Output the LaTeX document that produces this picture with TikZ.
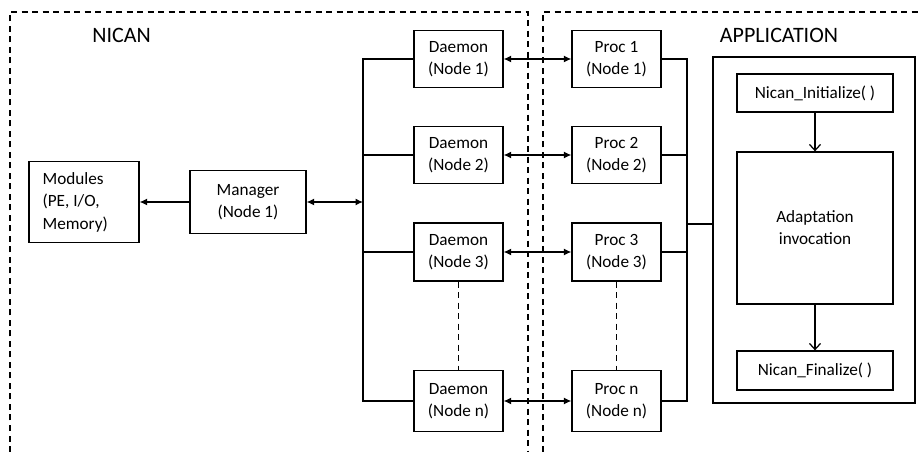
\documentclass[tikz,border=0pt]{standalone}
\usepackage{fontspec}
\setmainfont{Carlito}
\usetikzlibrary{arrows.meta}
\begin{document}
\begin{tikzpicture}[x=1bp,y=-1bp,
  line width=1.25bp,
  box/.style={draw, line width=1.25bp, align=center, inner sep=0pt, font=\fontsize{17.2bp}{22bp}\selectfont},
  lbl/.style={font=\fontsize{22bp}{24bp}\selectfont, inner sep=0pt},
  dbl/.style={arrows={Latex[length=7.5bp,width=7bp]-Latex[length=7.5bp,width=7bp]}},
  one/.style={arrows={-Latex[length=7.5bp,width=7bp]}},
  barb/.style={arrows={-Straight Barb[length=6bp,width=11bp,line width=1.25bp]}},
  region/.style={dash pattern=on 6bp off 4.5bp, line width=1.1bp},
  dots/.style={dash pattern=on 6bp off 4.5bp, line width=1.1bp}]
\useasboundingbox (0,0) rectangle (922,452);

% dashed regions
\draw[region] (10,452) -- (10,12) -- (528,12) -- (528,452);
\draw[region] (543,452) -- (543,12) -- (922,12);
\node[lbl] (nican) at (121.5,35) {NICAN};
\node[lbl] (appl) at (779,35) {APPLICATION};

% NICAN side
\node[box, minimum width=110bp, minimum height=81bp] (mod) at (84,202) {};
\node[anchor=west, align=left, inner sep=0pt, font=\fontsize{17.2bp}{22.5bp}\selectfont] (modt) at (42,202) {Modules\\(PE, I/O,\\Memory)};
\node[box, minimum width=116bp, minimum height=63bp] (mgr) at (248,202) {Manager\\(Node 1)};

\node[box, minimum width=89bp, minimum height=57bp] (d1) at (458.5,59) {Daemon\\(Node 1)};
\node[box, minimum width=89bp, minimum height=57bp] (d2) at (458.5,155) {Daemon\\(Node 2)};
\node[box, minimum width=89bp, minimum height=58bp] (d3) at (458.5,252) {Daemon\\(Node 3)};
\node[box, minimum width=89bp, minimum height=61bp] (dn) at (458.5,401) {Daemon\\(Node n)};

\coordinate (lb) at (363,59);
\draw (d1.west) -- (d1.west -| lb) -- (dn.west -| lb) -- (dn.west);
\draw (d2.west) -- (d2.west -| lb);
\draw (d3.west) -- (d3.west -| lb);
\draw[dbl] (mgr.east) -- (mgr.east -| lb);
\draw[one] (mgr.west) -- (mod.east |- mgr.west);
\draw[dots] (d3.south) -- (dn.north);

% APPLICATION side
\node[box, minimum width=89bp, minimum height=57bp] (p1) at (616.5,59) {Proc 1\\(Node 1)};
\node[box, minimum width=89bp, minimum height=57bp] (p2) at (616.5,155) {Proc 2\\(Node 2)};
\node[box, minimum width=89bp, minimum height=58bp] (p3) at (616.5,252) {Proc 3\\(Node 3)};
\node[box, minimum width=89bp, minimum height=61bp] (pn) at (616.5,401) {Proc n\\(Node n)};

\draw[dbl] (d1.east) -- (p1.west);
\draw[dbl] (d2.east) -- (p2.west);
\draw[dbl] (d3.east) -- (p3.west);
\draw[dbl] (dn.east) -- (pn.west);
\draw[dots] (p3.south) -- (pn.north);

\coordinate (rb) at (687,59);
\draw (p1.east) -- (p1.east -| rb) -- (pn.east -| rb) -- (pn.east);
\draw (p2.east) -- (p2.east -| rb);
\draw (p3.east) -- (p3.east -| rb);

\node[box, minimum width=202bp, minimum height=346bp] (app) at (814,230) {};
\coordinate (aj) at (687,224);
\draw (aj) -- (aj -| app.west);

\node[box, minimum width=156bp, minimum height=38bp] (init) at (815,93) {Nican\_Initialize( )};
\node[box, minimum width=156bp, minimum height=152bp] (adapt) at (815,228) {Adaptation\\invocation};
\node[box, minimum width=156bp, minimum height=39bp] (fin) at (815,370.5) {Nican\_Finalize( )};
\draw[barb] (init.south) -- (adapt.north);
\draw[barb] (adapt.south) -- (fin.north);
\end{tikzpicture}
\end{document}
